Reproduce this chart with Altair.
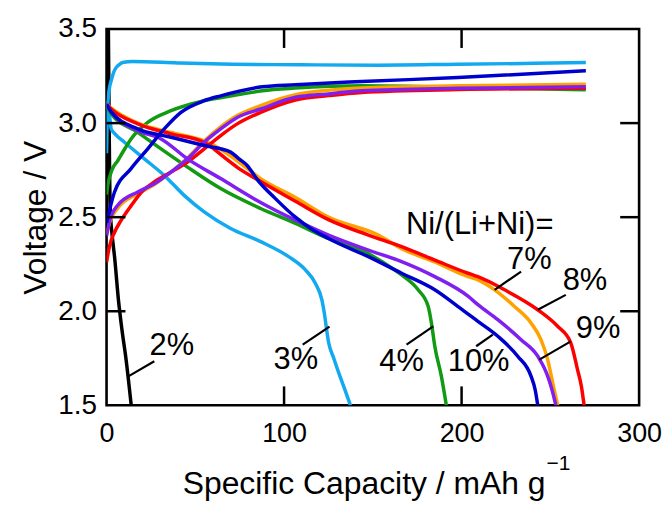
import altair as alt
import pandas as pd

# ---- data (specific capacity in mAh/g, voltage in V) ----
series_names = ["2%", "3%", "4%", "7%", "8%", "9%", "10%"]
series_colors = ["#000000", "#12a9f0", "#129a12", "#ffa200", "#ff0000", "#8020f0", "#0000cd"]

c2_charge_cap = [0.0, 0.3, 0.6, 0.9]
c2_charge_v = [2.45, 3.0, 3.4, 3.7]
c2_dis_cap = [0.9, 1.2, 1.5, 1.7, 2.2, 3.2, 4.5, 6.7, 8.7, 11.0, 13.9]
c2_dis_v = [3.65, 3.3, 2.95, 2.75, 2.52, 2.40, 2.29, 2.06, 1.9, 1.743, 1.5]

c3_charge_cap = [0, 0.2, 0.7, 1.5, 2.6, 4.0, 5.4, 7.0, 9.1, 14.6, 40, 70.7, 110, 153, 198, 235, 270]
c3_charge_v = [2.84, 2.95, 3.10, 3.18, 3.225, 3.27, 3.295, 3.31, 3.322, 3.327, 3.32, 3.313, 3.31, 3.308, 3.313, 3.317, 3.322]
c3_dis_cap = [0, 0.8, 1.7, 2.6, 5, 10.1, 21.3, 32.5, 43.7, 55, 69.9, 86.8, 102.6, 112, 117.6, 121.3, 122.5, 125.1, 128, 130.7, 134, 137.4]
c3_dis_v = [3.12, 3.09, 3.04, 2.97, 2.94, 2.898, 2.81, 2.722, 2.616, 2.528, 2.44, 2.37, 2.29, 2.22, 2.149, 2.06, 2.0, 1.833, 1.75, 1.675, 1.59, 1.5]

c4_charge_cap = [0, 0.7, 3.0, 6.3, 9.1, 13.8, 23.2, 36.3, 55, 73.6, 87.7, 106.4, 143.7, 198, 270]
c4_charge_v = [2.62, 2.67, 2.75, 2.80, 2.845, 2.916, 3.004, 3.066, 3.119, 3.15, 3.172, 3.186, 3.198, 3.19, 3.177]
c4_dis_cap = [0, 2.6, 17.6, 30.7, 45.6, 64.3, 86.8, 106.4, 125, 143.7, 155, 166.2, 175.5, 181.2, 183, 184.9, 188.6, 191.4]
c4_dis_v = [3.09, 3.05, 2.951, 2.863, 2.766, 2.652, 2.546, 2.467, 2.387, 2.325, 2.264, 2.193, 2.114, 2.025, 1.938, 1.814, 1.655, 1.5]

c7_charge_cap = [0, 2, 6.3, 17.6, 26.9, 36.3, 45.6, 55, 64.3, 73.6, 86.8, 106.4, 143.7, 198, 270]
c7_charge_v = [2.41, 2.48, 2.548, 2.625, 2.673, 2.74, 2.815, 2.905, 2.98, 3.04, 3.093, 3.151, 3.186, 3.198, 3.207]
c7_dis_cap = [0, 2.6, 17.6, 36.3, 55, 60, 66, 73.6, 86.8, 106.4, 125, 153, 166.2, 184.9, 203.6, 209.2, 218.6, 229.8, 239.1, 244.7, 248.5, 251.3, 254.1]
c7_dis_v = [3.10, 3.08, 3.0, 2.95, 2.905, 2.885, 2.85, 2.80, 2.705, 2.605, 2.50, 2.405, 2.333, 2.262, 2.184, 2.167, 2.114, 2.025, 1.938, 1.849, 1.743, 1.62, 1.5]

c8_charge_cap = [0, 1.5, 4.5, 8, 13.8, 20.4, 26.9, 36.3, 45.6, 55, 64.3, 73.6, 86.8, 106.4, 125, 143.7, 198, 270]
c8_charge_v = [2.26, 2.34, 2.42, 2.48, 2.56, 2.64, 2.687, 2.74, 2.793, 2.863, 2.934, 2.996, 3.057, 3.123, 3.146, 3.163, 3.178, 3.185]
c8_dis_cap = [0, 2.6, 17.6, 36.3, 55, 58.7, 66, 73.6, 86.8, 106.4, 125, 147.5, 166.2, 184.9, 203.6, 209.2, 224.2, 242.9, 254.1, 261.5, 265.3, 267.5, 269]
c8_dis_v = [3.10, 3.075, 2.996, 2.943, 2.898, 2.875, 2.82, 2.765, 2.69, 2.585, 2.487, 2.405, 2.343, 2.272, 2.202, 2.184, 2.114, 2.008, 1.92, 1.832, 1.69, 1.6, 1.5]

c9_charge_cap = [0, 1.7, 6.3, 17.6, 26.9, 36.3, 45.6, 55, 64.3, 73.6, 86.8, 106.4, 125, 143.7, 198, 270]
c9_charge_v = [2.40, 2.48, 2.563, 2.634, 2.678, 2.74, 2.81, 2.898, 2.969, 3.03, 3.075, 3.137, 3.155, 3.172, 3.185, 3.193]
c9_dis_cap = [0, 2.6, 17.6, 30.7, 45.6, 64.3, 86.8, 106.4, 125, 147.5, 166.2, 184.9, 203.6, 209.2, 220.4, 233.5, 242.9, 248.5, 251, 253.1]
c9_dis_v = [3.10, 3.06, 2.96, 2.916, 2.81, 2.705, 2.578, 2.484, 2.405, 2.325, 2.264, 2.184, 2.08, 2.035, 1.955, 1.849, 1.761, 1.655, 1.58, 1.5]

c10_charge_cap = [0, 4.5, 13.8, 23.2, 32.5, 41.9, 55, 64.3, 87.7, 106.4, 143.7, 198, 270]
c10_charge_v = [2.47, 2.634, 2.758, 2.863, 2.969, 3.057, 3.119, 3.145, 3.193, 3.204, 3.221, 3.242, 3.278]
c10_dis_cap = [0, 2.6, 17.6, 36.3, 55, 69.9, 74.6, 79.2, 84.9, 95, 106.4, 115, 125, 147.5, 166.2, 184.9, 198, 209.2, 220.4, 231.6, 239.1, 241.5, 242.9]
c10_dis_v = [3.10, 3.06, 2.969, 2.925, 2.881, 2.846, 2.81, 2.775, 2.70, 2.60, 2.50, 2.44, 2.387, 2.29, 2.202, 2.114, 2.025, 1.946, 1.867, 1.761, 1.655, 1.58, 1.5]

# labels with leader lines (data coordinates)
label_text = ["2%", "3%", "4%", "10%", "7%", "8%", "9%"]
label_cap = [36.8, 106.6, 166.2, 209.6, 238.2, 269.5, 276.9]
label_v = [1.814, 1.743, 1.731, 1.731, 2.272, 2.163, 1.907]
leader_cap1 = [12.5, 110.5, 169.0, 208.2, 218.6, 242.9, 243.8]
leader_v1 = [1.655, 1.823, 1.823, 1.814, 2.114, 2.008, 1.743]
leader_cap2 = [26.9, 125.6, 184.0, 217.6, 233.5, 258.7, 261.5]
leader_v2 = [1.734, 1.918, 1.920, 1.876, 2.211, 2.087, 1.840]
header_text = ["Ni/(Li+Ni)="]
header_cap = [210.2]
header_v = [2.458]

x_ticks = [100, 200]
y_ticks = [2.0, 2.5, 3.0]

# ---- build table ----
curves = [
    ("2%", c2_charge_cap, c2_charge_v, c2_dis_cap, c2_dis_v),
    ("3%", c3_charge_cap, c3_charge_v, c3_dis_cap, c3_dis_v),
    ("4%", c4_charge_cap, c4_charge_v, c4_dis_cap, c4_dis_v),
    ("7%", c7_charge_cap, c7_charge_v, c7_dis_cap, c7_dis_v),
    ("8%", c8_charge_cap, c8_charge_v, c8_dis_cap, c8_dis_v),
    ("9%", c9_charge_cap, c9_charge_v, c9_dis_cap, c9_dis_v),
    ("10%", c10_charge_cap, c10_charge_v, c10_dis_cap, c10_dis_v),
]
rows = []
for name, cc, cv, dc, dv in curves:
    for i, (a, b) in enumerate(zip(cc, cv)):
        rows.append({"cap": a, "v": b, "series": name, "curve": name + "c", "i": i})
    for i, (a, b) in enumerate(zip(dc, dv)):
        rows.append({"cap": a, "v": b, "series": name, "curve": name + "d", "i": i})
df = pd.DataFrame(rows)

W, H = 535, 378
FONT = "Liberation Sans"

xs = alt.Scale(domain=[0, 300], nice=False)
ys = alt.Scale(domain=[1.5, 3.5], nice=False)

lines = alt.Chart(df).mark_line(strokeWidth=3.5, clip=True, interpolate="monotone").encode(
    x=alt.X("cap:Q", scale=xs,
            axis=alt.Axis(values=[0, 100, 200, 300], ticks=False, domain=False, grid=False,
                          labelFontSize=27, labelPadding=15, labelFont=FONT, labelColor="black",
                          labelFlush=False, title=None)),
    y=alt.Y("v:Q", scale=ys,
            axis=alt.Axis(values=[1.5, 2.0, 2.5, 3.0, 3.5], format=".1f", ticks=False, domain=False,
                          grid=False, labelFontSize=28, labelPadding=10, labelFont=FONT,
                          labelColor="black", labelFlush=False, title="Voltage / V", titleFontSize=32,
                          titleFont=FONT, titleFontWeight="normal", titleColor="black",
                          titlePadding=5)),
    color=alt.Color("series:N", scale=alt.Scale(domain=series_names, range=series_colors), legend=None),
    detail="curve:N",
    order="i:Q",
)

xt = pd.DataFrame({"t": x_ticks})
yt = pd.DataFrame({"t": y_ticks})
tick_bottom = alt.Chart(xt).mark_rule(color="black", strokeWidth=2.5).encode(
    x=alt.X("t:Q", scale=xs), y=alt.value(H), y2=alt.value(H - 19))
tick_top = alt.Chart(xt).mark_rule(color="black", strokeWidth=2.5).encode(
    x=alt.X("t:Q", scale=xs), y=alt.value(0), y2=alt.value(19))
tick_left = alt.Chart(yt).mark_rule(color="black", strokeWidth=2.5).encode(
    y=alt.Y("t:Q", scale=ys), x=alt.value(0), x2=alt.value(19))
tick_right = alt.Chart(yt).mark_rule(color="black", strokeWidth=2.5).encode(
    y=alt.Y("t:Q", scale=ys), x=alt.value(W), x2=alt.value(W - 19))

ld = pd.DataFrame({"x1": leader_cap1, "y1": leader_v1, "x2": leader_cap2, "y2": leader_v2})
leaders = alt.Chart(ld).mark_rule(color="black", strokeWidth=2.2).encode(
    x=alt.X("x1:Q", scale=xs), y=alt.Y("y1:Q", scale=ys), x2="x2:Q", y2="y2:Q")

lab = pd.DataFrame({"t": label_text, "x": label_cap, "y": label_v})
labels = alt.Chart(lab).mark_text(fontSize=31, font=FONT, color="black", baseline="middle").encode(
    x=alt.X("x:Q", scale=xs), y=alt.Y("y:Q", scale=ys), text="t:N")

hd = pd.DataFrame({"t": header_text, "x": header_cap, "y": header_v})
header = alt.Chart(hd).mark_text(fontSize=31, font=FONT, color="black", baseline="middle").encode(
    x=alt.X("x:Q", scale=xs), y=alt.Y("y:Q", scale=ys), text="t:N")

xtitle = alt.Chart(pd.DataFrame({"t": ["Specific Capacity / mAh g"]})).mark_text(
    fontSize=32, font=FONT, color="black", align="right", baseline="alphabetic").encode(
    x=alt.value(441), y=alt.value(467), text="t:N")
xsup = alt.Chart(pd.DataFrame({"t": ["\u22121"]})).mark_text(
    fontSize=21, font=FONT, color="black", align="left", baseline="alphabetic").encode(
    x=alt.value(442), y=alt.value(443), text="t:N")

chart = alt.layer(lines, tick_bottom, tick_top, tick_left, tick_right, leaders, labels, header,
                  xtitle, xsup).properties(
    width=W, height=H,
    autosize=alt.AutoSizeParams(type="none"),
    padding={"left": 99, "top": 20, "right": 24, "bottom": 97},
).configure(background="white").configure_view(stroke="black", strokeWidth=2.6)

chart.save("out.html", embed_options={"renderer": "svg", "actions": False})
